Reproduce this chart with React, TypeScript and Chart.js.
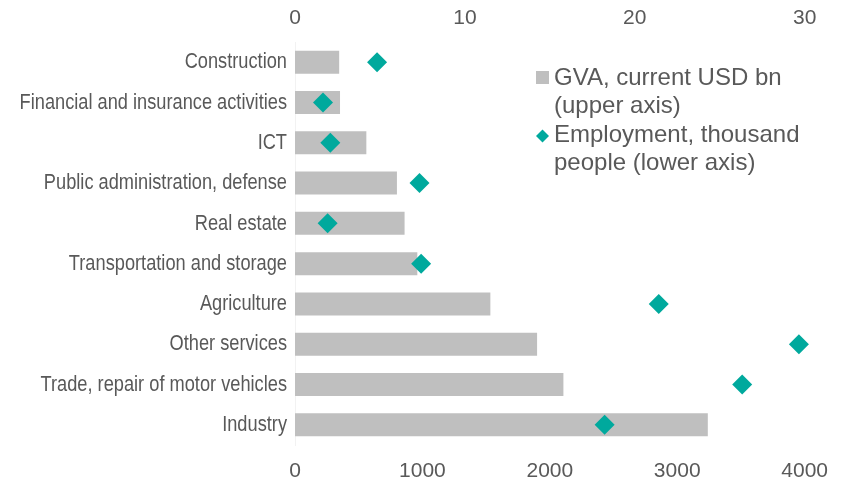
import React, { useEffect, useRef } from "react";
import { Chart, registerables } from "chart.js";

Chart.register(...registerables);

const categories = [
  "Construction",
  "Financial and insurance activities",
  "ICT",
  "Public administration, defense",
  "Real estate",
  "Transportation and storage",
  "Agriculture",
  "Other services",
  "Trade, repair of motor vehicles",
  "Industry",
];
const gvaValues = [2.6, 2.65, 4.2, 6.0, 6.45, 7.2, 11.5, 14.25, 15.8, 24.3];
const employmentValues = [644, 220, 277, 977, 256, 990, 2855, 3955, 3510, 2430];
const upperTicks = [0, 10, 20, 30];
const lowerTicks = [0, 1000, 2000, 3000, 4000];
const legendGva = ["GVA, current USD bn", "(upper axis)"];
const legendEmp = ["Employment, thousand", "people (lower axis)"];

const GRAY = "#bfbfbf";
const TEAL = "#00a99d";
const TEXT = "#595959";

const legendPlugin = {
  id: "customLegend",
  afterDatasetsDraw(chart: any) {
    const ctx = chart.ctx;
    ctx.save();
    ctx.fillStyle = GRAY;
    ctx.fillRect(536, 71, 13, 13);
    ctx.fillStyle = TEAL;
    ctx.beginPath();
    const cx = 542.5, cy = 136, r = 6.5;
    ctx.moveTo(cx, cy - r);
    ctx.lineTo(cx + r, cy);
    ctx.lineTo(cx, cy + r);
    ctx.lineTo(cx - r, cy);
    ctx.closePath();
    ctx.fill();
    ctx.fillStyle = TEXT;
    ctx.font = "24px 'Liberation Sans', Arial, sans-serif";
    ctx.textBaseline = "alphabetic";
    ctx.textAlign = "left";
    ctx.fillText(legendGva[0], 554, 85);
    ctx.fillText(legendGva[1], 554, 113);
    ctx.fillText(legendEmp[0], 554, 142);
    ctx.fillText(legendEmp[1], 554, 170);
    ctx.restore();
  },
};

// draws category labels horizontally condensed (like Arial Narrow)
const categoryLabelPlugin = {
  id: "categoryLabels",
  afterDraw(chart: any) {
    const ctx = chart.ctx;
    const yScale = chart.scales.y;
    const right = chart.chartArea.left - 8;
    const sx = 0.81;
    ctx.save();
    ctx.fillStyle = TEXT;
    ctx.font = "22.5px 'Liberation Sans', Arial, sans-serif";
    ctx.textAlign = "right";
    ctx.textBaseline = "middle";
    categories.forEach((label, i) => {
      const y = yScale.getPixelForValue(i);
      ctx.save();
      ctx.translate(right, y);
      ctx.scale(sx, 1);
      ctx.fillText(label, 0, 0);
      ctx.restore();
    });
    ctx.restore();
  },
};

export default function App() {
  const ref = useRef<HTMLCanvasElement | null>(null);
  useEffect(() => {
    if (!ref.current) return;
    const chart = new Chart(ref.current, {
      type: "bar",
      data: {
        labels: categories,
        datasets: [
          {
            type: "line",
            label: "Employment, thousand people (lower axis)",
            data: employmentValues,
            xAxisID: "x",
            yAxisID: "y",
            indexAxis: "y",
            showLine: false,
            clip: false,
            pointStyle: "rectRot",
            pointRadius: 10,
            pointBackgroundColor: TEAL,
            pointBorderColor: TEAL,
            pointBorderWidth: 0,
            backgroundColor: TEAL,
            borderColor: TEAL,
            order: 0,
          } as any,
          {
            type: "bar",
            label: "GVA, current USD bn (upper axis)",
            data: gvaValues,
            xAxisID: "x2",
            yAxisID: "y",
            backgroundColor: GRAY,
            borderWidth: 0,
            barPercentage: 0.57,
            categoryPercentage: 1,
            order: 1,
          },
        ],
      },
      options: {
        indexAxis: "y",
        animation: false,
        responsive: false,
        maintainAspectRatio: false,
        layout: { padding: { left: 0, right: 32, top: 0, bottom: 0 } },
        plugins: { legend: { display: false }, tooltip: { enabled: false } },
        scales: {
          y: {
            type: "category",
            grid: { display: false, drawTicks: false },
            border: { display: true, color: "#f2f2f2" },
            ticks: { display: false },
            afterFit(s: any) {
              s.width = 295;
            },
          },
          x: {
            type: "linear",
            position: "bottom",
            min: 0,
            max: 4000,
            grid: { display: false, drawTicks: false },
            border: { display: false },
            afterBuildTicks(s: any) {
              s.ticks = lowerTicks.map((v) => ({ value: v }));
            },
            ticks: {
              color: TEXT,
              padding: 14,
              font: { family: "'Liberation Sans', Arial, sans-serif", size: 21 },
              callback: (v: any) => String(v),
            },
            afterFit(s: any) {
              s.height = 38;
            },
          },
          x2: {
            type: "linear",
            position: "top",
            min: 0,
            max: 30,
            grid: { display: false, drawTicks: false },
            border: { display: false },
            afterBuildTicks(s: any) {
              s.ticks = upperTicks.map((v) => ({ value: v }));
            },
            ticks: {
              color: TEXT,
              padding: 11,
              font: { family: "'Liberation Sans', Arial, sans-serif", size: 21 },
              callback: (v: any) => String(v),
            },
            afterFit(s: any) {
              s.height = 42;
            },
          },
        },
      },
      plugins: [legendPlugin, categoryLabelPlugin],
    });
    return () => chart.destroy();
  }, []);
  return (
    <div style={{ position: "fixed", left: 0, top: 0, width: 842, height: 483, background: "#fff" }}>
      <canvas ref={ref} width={842} height={483} style={{ width: 842, height: 483 }} />
    </div>
  );
}
